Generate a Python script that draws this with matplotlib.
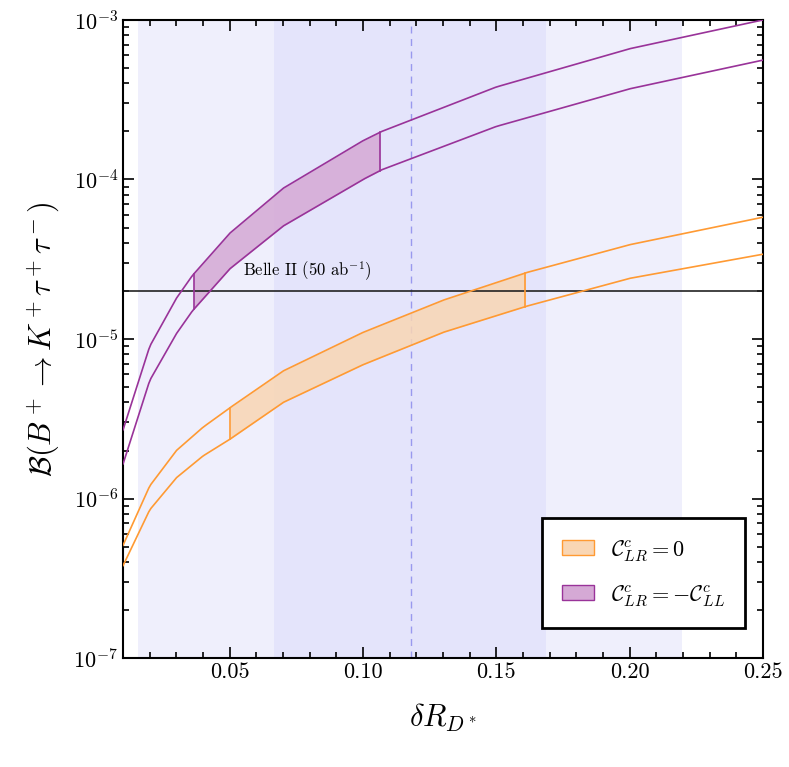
import numpy as np
import matplotlib
matplotlib.use("Agg")
import matplotlib.pyplot as plt
from matplotlib.patches import Patch

plt.rcParams['font.family'] = 'serif'
plt.rcParams['font.serif'] = ['cmr10']
plt.rcParams['mathtext.fontset'] = 'cm'
plt.rcParams['axes.formatter.use_mathtext'] = True

# purple: C_LR = -C_LL
x_pur = [0.01, 0.02, 0.03, 0.036, 0.05, 0.07, 0.1, 0.107, 0.15, 0.2, 0.25]
pur_hi = [2.7e-6, 9e-6, 1.8e-5, 2.5e-5, 4.6e-5, 8.8e-5, 1.75e-4, 2.0e-4, 3.8e-4, 6.6e-4, 1.0e-3]
pur_lo = [1.65e-6, 5.5e-6, 1.08e-5, 1.5e-5, 2.75e-5, 5.1e-5, 1.0e-4, 1.15e-4, 2.15e-4, 3.7e-4, 5.6e-4]
pur_range = (0.036, 0.107)

# orange: C_LR = 0
x_ora = [0.01, 0.02, 0.03, 0.04, 0.05, 0.07, 0.1, 0.13, 0.161, 0.2, 0.25]
ora_hi = [5.1e-7, 1.2e-6, 2.0e-6, 2.8e-6, 3.7e-6, 6.3e-6, 1.1e-5, 1.75e-5, 2.6e-5, 3.9e-5, 5.8e-5]
ora_lo = [3.8e-7, 8.5e-7, 1.35e-6, 1.85e-6, 2.35e-6, 4.0e-6, 6.9e-6, 1.1e-5, 1.6e-5, 2.4e-5, 3.4e-5]
ora_range = (0.05, 0.161)

belle = 2e-5
band_2s = (0.0157, 0.2197)
band_1s = (0.0666, 0.1685)
central = 0.118

c_ora, f_ora = '#ff9a33', '#f9d6b4'
c_pur, f_pur = '#993399', '#d5a9d5'


def smooth(x, y, n=300):
    xs = np.linspace(min(x), max(x), n)
    return xs, 10 ** np.interp(xs, x, np.log10(y))


fig = plt.figure(figsize=(7.89, 7.67), dpi=100)
ax = fig.add_axes([0.156, 0.142, 0.811, 0.832])
ax.set_yscale('log')
ax.set_xlim(0.01, 0.25)
ax.set_ylim(1e-7, 1e-3)

ax.axvspan(*band_2s, color='#efeffc', lw=0, zorder=0)
ax.axvspan(*band_1s, color='#e4e4fb', lw=0, zorder=0)
ax.axvline(central, color='#9999ee', ls=(0, (5, 4)), lw=1, zorder=1)

for x, hi, lo, (a, b), c, f in [(x_ora, ora_hi, ora_lo, ora_range, c_ora, f_ora),
                                 (x_pur, pur_hi, pur_lo, pur_range, c_pur, f_pur)]:
    xs, yh = smooth(x, hi)
    _, yl = smooth(x, lo)
    ax.plot(xs, yh, color=c, lw=1.2, zorder=3)
    ax.plot(xs, yl, color=c, lw=1.2, zorder=3)
    m = (xs >= a) & (xs <= b)
    ax.fill_between(xs[m], yl[m], yh[m], color=f, alpha=0.85, lw=0, zorder=2)
    ax.plot([xs[m][0]] * 2, [yl[m][0], yh[m][0]], color=c, lw=1.2, zorder=3)
    ax.plot([xs[m][-1]] * 2, [yl[m][-1], yh[m][-1]], color=c, lw=1.2, zorder=3)

ax.axhline(belle, color='#222222', lw=1.2, zorder=2.5)
ax.text(0.055, belle * 1.12, r'Belle II (50 ab$^{-1}$)', fontsize=12, va='bottom')

ax.set_xticks([0.05, 0.10, 0.15, 0.20, 0.25])
ax.set_xticklabels(['0.05', '0.10', '0.15', '0.20', '0.25'])
ax.set_xticks(np.arange(0.01, 0.25, 0.01), minor=True)
ax.tick_params(which='both', direction='in', top=True, right=True, labelsize=16, width=1.2)
ax.tick_params(which='major', length=8)
ax.tick_params(which='minor', length=4)
for s in ax.spines.values():
    s.set_linewidth(1.5)

ax.set_xlabel(r'$\delta R_{D^*}$', fontsize=22, labelpad=14)
ax.set_ylabel(r'$\mathcal{B}(B^+\to K^+\tau^+\tau^-)$', fontsize=22, labelpad=8)

handles = [Patch(facecolor=f_ora, edgecolor=c_ora), Patch(facecolor=f_pur, edgecolor=c_pur)]
leg = ax.legend(handles, [r'$\mathcal{C}^c_{LR}=0$', r'$\mathcal{C}^c_{LR}=-\mathcal{C}^c_{LL}$'],
                loc='lower right', fontsize=16, fancybox=False, framealpha=1,
                edgecolor='black', borderpad=0.9, labelspacing=0.9,
                handlelength=1.4, bbox_to_anchor=(0.99, 0.03))
leg.get_frame().set_linewidth(2)

fig.savefig('out.png', dpi=100)
